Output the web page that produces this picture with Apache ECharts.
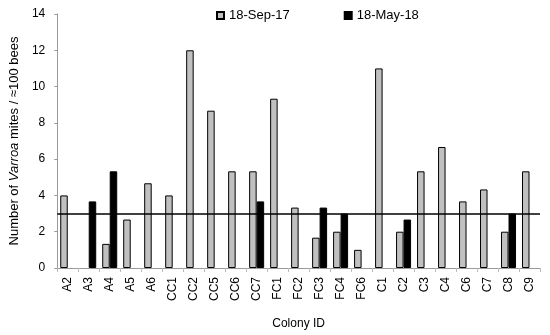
<!DOCTYPE html>
<html><head><meta charset="utf-8">
<script src="https://cdn.jsdelivr.net/npm/echarts@6/dist/echarts.min.js"></script>
<style>html,body{margin:0;padding:0;background:#fff}#c{width:550px;height:335px}</style>
</head><body><div id="c"></div>
<script>
const categories = ['A2','A3','A4','A5','A6','CC1','CC2','CC5','CC6','CC7','FC1','FC2','FC3','FC4','FC6','C1','C2','C3','C4','C6','C7','C8','C9'];
const sep17 = [4,null,1.33,2.67,4.67,4,12,8.67,5.33,5.33,9.33,3.33,1.67,2,1,11,2,5.33,6.67,3.67,4.33,2,5.33];
const may18 = [null,3.67,5.33,null,null,null,null,null,null,3.67,null,null,3.33,3,null,null,2.67,null,null,null,null,3,null];
const threshold = 3;
const yTicks = [0,2,4,6,8,10,12,14];
const F = 'Liberation Sans, Arial, sans-serif';
const chart = echarts.init(document.getElementById('c'));
chart.setOption({
  animation:false,
  textStyle:{fontFamily:F},
  grid:{left:53,right:10,top:14,bottom:65},
  legend:{
    top:4,left:211,itemGap:54,itemWidth:7,itemHeight:7,
    textStyle:{fontSize:13,color:'#000',fontFamily:F},
    data:[{name:'18-Sep-17',icon:'rect'},{name:'18-May-18',icon:'rect'}]
  },
  xAxis:{
    type:'category',data:categories,
    name:'Colony ID',nameLocation:'middle',nameGap:50,
    nameTextStyle:{fontSize:12,color:'#000',fontFamily:F},
    axisLine:{lineStyle:{color:'#999'}},
    axisTick:{show:true,length:4,lineStyle:{color:'#bbb'}},
    axisLabel:{rotate:90,fontSize:12,color:'#000',interval:0,margin:9,fontFamily:F}
  },
  yAxis:{
    type:'value',min:0,max:14,interval:2,
    name:'{a|Number of }{b|Varroa}{a| mites / ≈100 bees}',
    nameLocation:'middle',nameGap:32,nameRotate:90,
    nameTextStyle:{rich:{a:{fontSize:13,color:'#000',fontFamily:F},b:{fontSize:13,color:'#000',fontStyle:'italic',fontFamily:F}}},
    axisLine:{show:true,lineStyle:{color:'#999'}},
    axisTick:{show:true,length:3,lineStyle:{color:'#999'}},
    splitLine:{show:false},
    axisLabel:{fontSize:12,color:'#000',margin:12,fontFamily:F,formatter:v=>yTicks.includes(v)?String(v):''}
  },
  series:[
    {name:'18-Sep-17',type:'bar',data:sep17,barWidth:7.5,barGap:'0%',
     itemStyle:{color:'#c0c0c0',borderColor:'#000',borderWidth:1},
     markLine:{silent:true,symbol:'none',label:{show:false},
       lineStyle:{color:'#000',width:1.5,type:'solid'},
       data:[{yAxis:threshold}]}},
    {name:'18-May-18',type:'bar',data:may18,barWidth:7.5,barGap:'0%',
     itemStyle:{color:'#000',borderColor:'#000',borderWidth:1}}
  ]
});
</script></body></html>
